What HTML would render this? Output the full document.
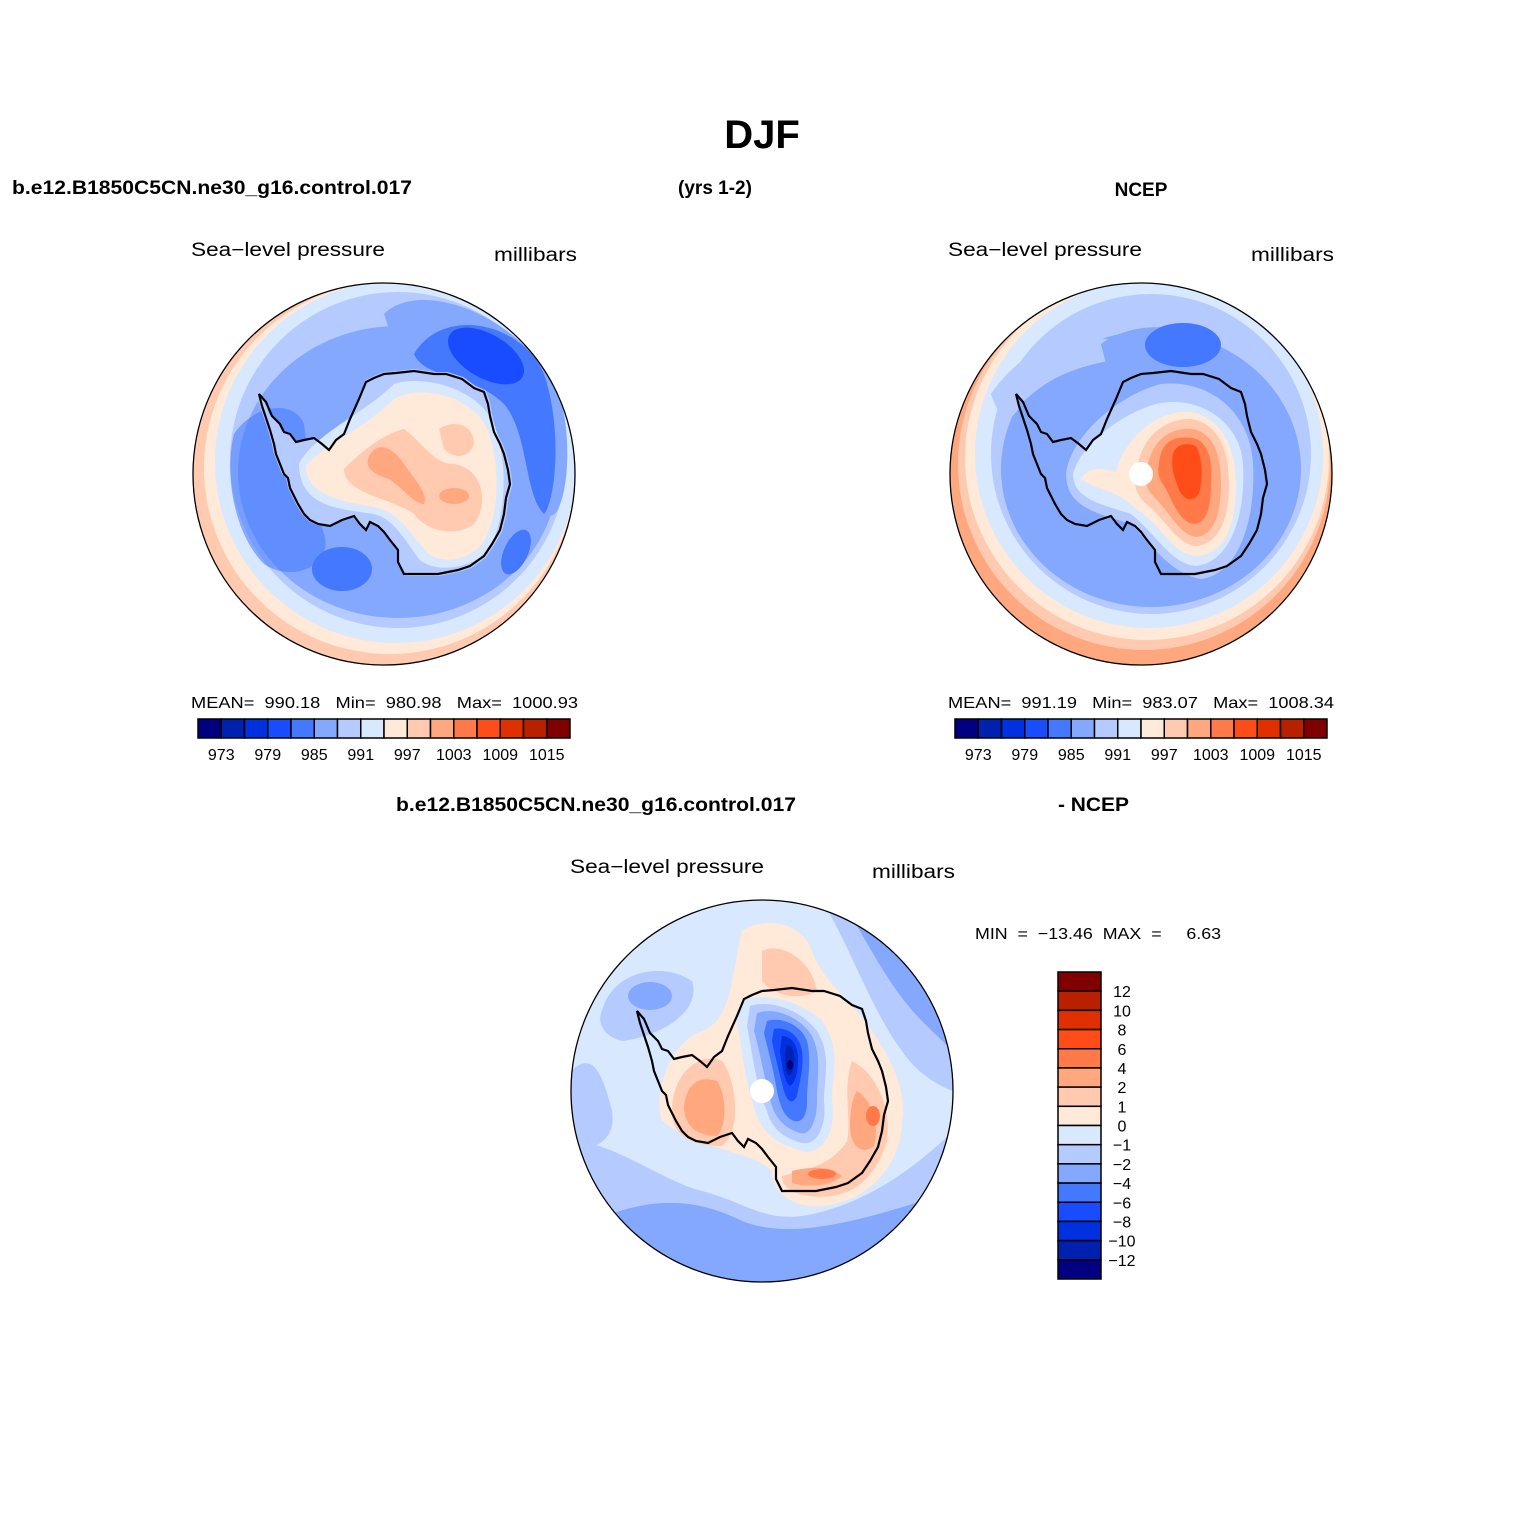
<!DOCTYPE html>
<html><head><meta charset="utf-8"><style>
html,body{margin:0;padding:0;background:#fff}
svg{display:block}
text{font-family:"Liberation Sans",sans-serif;white-space:pre}
.b{font-weight:bold}
</style></head><body>
<svg id="fig" width="1525" height="1525" viewBox="0 0 1525 1525" xmlns="http://www.w3.org/2000/svg" xml:space="preserve">
<defs>
<clipPath id="cl"><circle cx="0" cy="0" r="191"/></clipPath>
<path id="coast" d="M-125,-80 L-118,-72 L-112,-58 L-104,-50 L-100,-42 L-94,-40 L-88,-32 L-80,-34 L-70,-36 L-62,-30 L-55,-24 L-48,-34 L-40,-40 L-34,-55 L-25,-75 L-18,-92 L-10,-96 L0,-100 L12,-101 L30,-103 L50,-100 L62,-100 L78,-95 L90,-86 L100,-82 L104,-70 L106,-58 L110,-42 L116,-30 L120,-20 L124,-4 L126,10 L122,24 L120,40 L116,56 L108,70 L100,82 L86,92 L74,96 L54,100 L36,100 L20,100 L14,88 L14,76 L6,66 L0,58 L-6,52 L-14,48 L-18,56 L-24,50 L-30,42 L-42,46 L-54,52 L-66,50 L-74,46 L-80,40 L-86,30 L-90,22 L-94,14 L-96,4 L-100,0 L-104,-10 L-108,-20 L-110,-30 L-114,-44 L-118,-56 L-122,-68 Z"/>
</defs>

<text x="762" y="148" text-anchor="middle" class="b" font-size="40">DJF</text>
<text x="12" y="194" class="b" font-size="19" textLength="400" lengthAdjust="spacingAndGlyphs">b.e12.B1850C5CN.ne30_g16.control.017</text>
<text x="715" y="194" text-anchor="middle" class="b" font-size="19">(yrs 1-2)</text>
<text x="1141" y="196" text-anchor="middle" class="b" font-size="19">NCEP</text>
<text x="396" y="811" class="b" font-size="19" textLength="400" lengthAdjust="spacingAndGlyphs">b.e12.B1850C5CN.ne30_g16.control.017</text>
<text x="1058" y="811" class="b" font-size="19" textLength="71" lengthAdjust="spacingAndGlyphs">- NCEP</text>

<text x="191" y="256" font-size="19" textLength="194" lengthAdjust="spacingAndGlyphs">Sea−level pressure</text>
<text x="494" y="261" font-size="19" textLength="83" lengthAdjust="spacingAndGlyphs">millibars</text>
<text x="948" y="256" font-size="19" textLength="194" lengthAdjust="spacingAndGlyphs">Sea−level pressure</text>
<text x="1251" y="261" font-size="19" textLength="83" lengthAdjust="spacingAndGlyphs">millibars</text>
<text x="570" y="873" font-size="19" textLength="194" lengthAdjust="spacingAndGlyphs">Sea−level pressure</text>
<text x="872" y="878" font-size="19" textLength="83" lengthAdjust="spacingAndGlyphs">millibars</text>

<text x="191" y="708" font-size="16" textLength="387" lengthAdjust="spacingAndGlyphs">MEAN=  990.18   Min=  980.98   Max=  1000.93</text>
<text x="948" y="708" font-size="16" textLength="386" lengthAdjust="spacingAndGlyphs">MEAN=  991.19   Min=  983.07   Max=  1008.34</text>
<text x="975" y="939" font-size="16" textLength="246" lengthAdjust="spacingAndGlyphs">MIN  =  −13.46  MAX  =     6.63</text>

<!-- Left map: model -->
<g transform="translate(384,474)">
 <g clip-path="url(#cl)">
  <circle r="191" fill="#ffcab0"/>
  <circle cx="6" cy="-6" r="186" fill="#ffe9d8"/>
  <circle cx="12" cy="-12" r="181" fill="#d8e8ff"/>
  <circle cx="14" cy="-14" r="168" fill="#b5cbff"/>
  <ellipse cx="14" cy="-2" rx="160" ry="146" fill="#85a8ff"/>
  <path d="M0,-160 C40,-200 160,-150 180,-60 C190,0 175,50 165,40 C150,20 150,-40 120,-70 C80,-110 20,-110 10,-130 Z" fill="#85a8ff"/>
  <path d="M30,-120 C60,-170 140,-150 160,-100 C180,-40 170,30 160,40 C140,20 145,-40 120,-70 C90,-100 40,-95 30,-120 Z" fill="#4378ff"/>
  <ellipse cx="102" cy="-118" rx="42" ry="22" transform="rotate(30 102 -118)" fill="#1a4cff"/>
  <path d="M-150,-40 C-130,-70 -90,-75 -80,-50 C-75,-10 -70,30 -60,60 C-50,90 -90,110 -120,90 C-150,60 -160,0 -150,-40 Z" fill="#4378ff" opacity="0.55"/>
  <ellipse cx="-42" cy="95" rx="30" ry="22" fill="#4378ff"/>
  <ellipse cx="132" cy="78" rx="12" ry="24" transform="rotate(25 132 78)" fill="#4378ff"/>
  <use href="#coast" fill="#b5cbff" transform="scale(1.02)"/>
  <path d="M-85,-10 C-70,-40 -20,-60 10,-90 C40,-100 95,-85 110,-50 C125,-10 122,45 105,75 C90,95 50,100 35,85 C20,65 10,45 -10,40 C-40,35 -85,35 -85,-10 Z" fill="#d8e8ff"/>
  <path d="M-78,-8 C-60,-30 -20,-45 10,-75 C40,-92 95,-75 105,-40 C117,-5 115,45 98,70 C82,90 50,90 40,75 C25,58 15,38 -10,33 C-40,28 -78,22 -78,-8 Z" fill="#ffe9d8"/>
  <path d="M-40,-5 C-20,-25 0,-40 20,-45 C40,-30 50,-10 70,-10 C100,-5 105,30 90,50 C70,65 40,55 30,40 C10,25 -40,20 -40,-5 Z" fill="#ffcab0"/>
  <path d="M55,-45 C70,-55 90,-50 90,-30 C85,-15 70,-15 60,-25 Z" fill="#ffcab0"/>
  <path d="M-15,-18 C-5,-35 10,-25 20,-10 C30,5 45,20 40,30 C30,30 20,15 5,5 C-10,0 -20,-5 -15,-18 Z" fill="#ffa880"/>
  <ellipse cx="70" cy="22" rx="15" ry="8" fill="#ffa880"/>
  <use href="#coast" fill="none" stroke="#000" stroke-width="2.2"/>
 </g>
 <circle r="191" fill="none" stroke="#000" stroke-width="1.3"/>
</g>

<!-- Right map: NCEP -->
<g transform="translate(1141,474)">
 <g clip-path="url(#cl)">
  <circle r="191" fill="#ffa880"/>
  <circle cx="3" cy="-10" r="186" fill="#ffcab0"/>
  <circle cx="6" cy="-16" r="182" fill="#ffe9d8"/>
  <circle cx="8" cy="-20" r="174" fill="#d8e8ff"/>
  <circle cx="10" cy="-20" r="160" fill="#b5cbff"/>
  <ellipse cx="10" cy="-5" rx="150" ry="138" fill="#85a8ff"/>
  <path d="M-150,-80 C-110,-140 -40,-150 0,-120 C-40,-110 -80,-110 -120,-70 C-130,-50 -140,-50 -150,-80 Z" fill="#b5cbff"/>
  <path d="M-40,-130 C0,-160 80,-150 100,-100 C80,-80 20,-85 -30,-90 Z" fill="#85a8ff"/>
  <ellipse cx="42" cy="-129" rx="38" ry="22" fill="#4378ff"/>
  <use href="#coast" fill="#85a8ff"/>
  <path d="M-75,0 C-70,-40 -20,-80 20,-90 C70,-95 110,-60 112,-10 C115,40 100,100 60,105 C30,100 10,70 -10,50 C-40,40 -75,35 -75,0 Z" fill="#b5cbff"/>
  <path d="M-68,0 C-60,-30 -20,-60 15,-70 C60,-80 100,-50 102,-10 C105,40 90,88 55,92 C30,90 15,60 -10,40 C-40,30 -68,25 -68,0 Z" fill="#d8e8ff"/>
  <path d="M-60,5 C-55,-5 -40,-8 -25,-2 C-15,-40 20,-65 50,-62 C85,-55 95,-20 95,10 C95,50 85,80 55,82 C30,80 20,50 -5,35 C-25,15 -40,18 -60,5 Z" fill="#ffe9d8"/>
  <path d="M-5,0 C0,-40 25,-55 50,-55 C80,-50 88,-20 88,10 C88,45 78,70 55,72 C35,70 25,45 5,30 C-5,20 -8,10 -5,0 Z" fill="#ffcab0"/>
  <path d="M5,0 C10,-35 30,-47 52,-45 C75,-40 80,-15 80,10 C80,42 72,62 55,63 C38,60 30,40 15,25 C5,15 3,8 5,0 Z" fill="#ffa880"/>
  <path d="M18,-10 C20,-35 35,-38 52,-36 C68,-32 72,-12 70,10 C70,35 65,50 52,50 C40,48 32,30 25,15 C18,5 16,0 18,-10 Z" fill="#ff7a48"/>
  <path d="M32,-20 C35,-30 45,-32 55,-28 C62,-15 62,5 58,20 C50,30 40,25 36,10 C32,0 30,-10 32,-20 Z" fill="#ff4d1a"/>
  <circle cx="0" cy="0" r="12" fill="#fff"/>
  <use href="#coast" fill="none" stroke="#000" stroke-width="2.2"/>
 </g>
 <circle r="191" fill="none" stroke="#000" stroke-width="1.3"/>
</g>

<!-- Bottom map: difference -->
<g transform="translate(762,1091)">
 <g clip-path="url(#cl)">
  <circle r="191" fill="#d8e8ff"/>
  <path d="M-191,50 C-150,50 -100,90 -60,100 C-20,110 0,130 40,125 C100,115 150,80 191,40 L191,191 L-191,191 Z" fill="#b5cbff"/>
  <path d="M-191,140 C-130,110 -80,100 -20,130 C30,150 100,130 191,100 L191,191 L-191,191 Z" fill="#85a8ff"/>
  <path d="M60,-191 C90,-140 110,-80 140,-40 C160,-10 191,0 191,0 L191,-191 Z" fill="#b5cbff"/>
  <path d="M80,-191 C110,-140 130,-100 160,-70 C180,-50 191,-40 191,-40 L191,-191 Z" fill="#85a8ff"/>
  <path d="M100,-191 C130,-150 150,-120 180,-90 L191,-80 L191,-191 Z" fill="#4378ff"/>
  <path d="M130,-191 C150,-150 170,-130 191,-110 L191,-191 Z" fill="#1a4cff"/>
  <path d="M-160,-80 C-150,-120 -100,-130 -70,-110 C-60,-80 -100,-55 -140,-50 C-160,-55 -165,-70 -160,-80 Z" fill="#b5cbff"/>
  <ellipse cx="-112" cy="-95" rx="22" ry="14" fill="#85a8ff"/>
  <path d="M-191,-20 C-170,-40 -160,-20 -150,20 C-145,50 -170,60 -191,60 Z" fill="#b5cbff"/>
  <path d="M-100,30 C-110,0 -90,-50 -60,-60 C-30,-70 -30,-120 -20,-160 C0,-175 40,-170 50,-140 C60,-110 90,-90 110,-60 C130,-30 145,0 140,30 C140,70 110,110 60,115 C30,118 10,100 10,80 C-10,60 -60,60 -100,30 Z" fill="#ffe9d8"/>
  <path d="M-90,20 C-90,-20 -60,-40 -40,-30 C-25,-10 -20,40 -40,55 C-70,55 -90,45 -90,20 Z" fill="#ffcab0"/>
  <path d="M0,-140 C20,-150 50,-130 55,-100 C40,-90 10,-95 0,-110 Z" fill="#ffcab0"/>
  <path d="M90,-30 C110,-20 130,10 125,50 C115,80 100,100 70,105 C40,108 20,100 20,85 C40,80 70,75 85,50 C90,25 80,0 90,-30 Z" fill="#ffcab0"/>
  <path d="M-78,15 C-75,-10 -60,-15 -45,-10 C-35,5 -35,35 -45,45 C-65,45 -78,35 -78,15 Z" fill="#ffa880"/>
  <path d="M95,0 C110,10 118,30 112,55 C100,65 88,55 88,35 C88,20 90,8 95,0 Z" fill="#ffa880"/>
  <path d="M30,80 C50,75 70,75 80,85 C70,95 45,97 30,92 Z" fill="#ffa880"/>
  <ellipse cx="111" cy="25" rx="7" ry="10" fill="#ff7a48"/>
  <ellipse cx="60" cy="83" rx="14" ry="5" fill="#ff7a48"/>
  <path d="M-20,-90 C0,-100 40,-90 60,-70 C80,-40 70,-20 70,10 C75,40 60,65 40,60 C25,55 5,50 -5,25 C-15,0 -20,-40 -25,-70 Z" fill="#d8e8ff"/>
  <path d="M-12,-85 C10,-92 40,-80 55,-60 C70,-35 62,-15 62,10 C65,35 55,55 40,52 C25,48 10,40 5,20 C-5,0 -10,-40 -15,-65 Z" fill="#b5cbff"/>
  <path d="M-5,-78 C15,-85 40,-72 50,-55 C60,-35 55,-15 55,10 C55,30 48,45 38,42 C25,38 15,30 10,15 C5,0 -2,-40 -8,-60 Z" fill="#85a8ff"/>
  <path d="M5,-70 C20,-75 40,-65 45,-50 C50,-30 45,-10 45,10 C45,25 40,32 32,30 C22,26 18,15 15,0 C12,-20 5,-45 2,-58 Z" fill="#4378ff"/>
  <path d="M12,-62 C25,-65 38,-55 40,-40 C42,-25 38,-10 35,5 C30,15 25,10 22,0 C18,-15 12,-40 10,-50 Z" fill="#1a4cff"/>
  <path d="M20,-55 C30,-55 36,-45 36,-32 C36,-18 33,-8 28,-5 C22,-10 20,-25 18,-40 Z" fill="#0030e0"/>
  <path d="M25,-46 C32,-45 33,-35 32,-25 C30,-15 26,-12 24,-20 C23,-30 22,-40 25,-46 Z" fill="#0020b0"/>
  <ellipse cx="28" cy="-26" rx="3" ry="5" fill="#000080"/>
  <circle cx="0" cy="0" r="12" fill="#fff"/>
  <use href="#coast" fill="none" stroke="#000" stroke-width="2.2"/>
 </g>
 <circle r="191" fill="none" stroke="#000" stroke-width="1.3"/>
</g>

<g id="cbars"></g>
</svg>
<script>
const levelColors = ["#000080","#0020b0","#0030e0","#1a4cff","#4378ff","#85a8ff","#b5cbff","#d8e8ff","#ffe9d8","#ffcab0","#ffa880","#ff7a48","#ff4d1a","#e03000","#b82000","#800000"];
const slpTickLabels = ["973","979","985","991","997","1003","1009","1015"];
const diffTickLabels = ["12","10","8","6","4","2","1","0","−1","−2","−4","−6","−8","−10","−12"];
const NS = "http://www.w3.org/2000/svg";
const root = document.getElementById("cbars");
function mk(tag, attrs){const e=document.createElementNS(NS,tag);for(const k in attrs)e.setAttribute(k,attrs[k]);return e;}
function hbar(x0, y0, w, h, label){
  const g = mk("g",{});
  
  
  const n = levelColors.length, bw = w/n;
  levelColors.forEach((c,i)=>{
    const r = mk("rect",{x:x0+i*bw,y:y0,width:bw,height:h,fill:c,stroke:"#000","stroke-width":1.5});
    
    
    g.appendChild(r);
  });
  slpTickLabels.forEach((t,j)=>{
    const tx = mk("text",{x:x0+(2*j+1)*bw,y:y0+h+22,"text-anchor":"middle","font-size":16});
    tx.textContent = t;
    
    
    g.appendChild(tx);
  });
  root.appendChild(g);
}
hbar(198,719,372,19,"colorbar-model");
hbar(955,719,372,19,"colorbar-ncep");
(function(){
  const x0=1058,y0=972,w=43,h=307,n=levelColors.length,bh=h/n;
  const g = mk("g",{});
  
  
  levelColors.slice().reverse().forEach((c,i)=>{
    const r = mk("rect",{x:x0,y:y0+i*bh,width:w,height:bh,fill:c,stroke:"#000","stroke-width":1.5});
    
    
    g.appendChild(r);
  });
  diffTickLabels.forEach((t,j)=>{
    const tx = mk("text",{x:x0+w+21,y:y0+(j+1)*bh+6,"text-anchor":"middle","font-size":16});
    tx.textContent = t;
    
    
    g.appendChild(tx);
  });
  root.appendChild(g);
})();
</script>
</body></html>
